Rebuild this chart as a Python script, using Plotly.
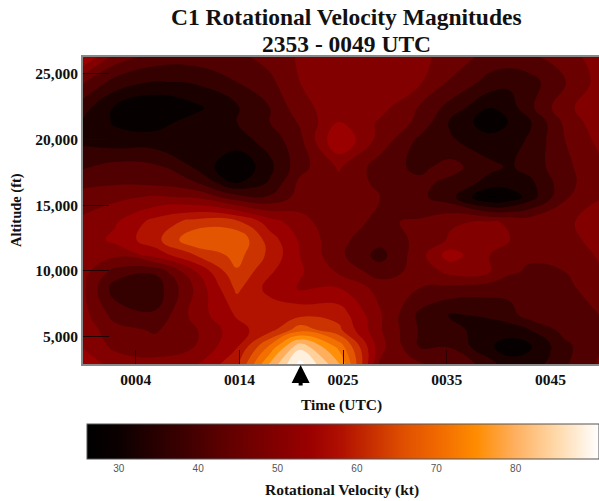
import plotly.graph_objects as go

time_minutes = [-1.1, 1.97, 5.83, 9.69, 13.75, 16.93, 19.83, 23.59, 27.55, 31.41, 34.31, 38.17, 40.1, 42.03, 45.41, 48.69]
altitude_ft = [26295, 24390, 22410, 21340, 19970, 17910, 16694, 15630, 13720, 12350, 11210, 9912, 8690, 6640, 5493, 4270, 2900]
velocity_kt = [
    [56, 46, 42, 41.5, 42.5, 45, 48, 49, 49, 48.5, 46, 42, 42, 42.5, 46, 49],
    [44, 38, 35.3, 36, 39.5, 42.5, 47.5, 49, 49.5, 48, 43, 38, 36.5, 38, 43, 49],
    [37, 31, 27.6, 30.5, 35, 39.5, 46, 50, 49, 43, 38, 31.5, 33.5, 38.5, 46.5, 50],
    [35, 31, 30, 33, 35.5, 39.5, 44, 51.5, 47, 42.5, 35, 29, 31.8, 35, 44.5, 50],
    [34.5, 33, 33, 33.5, 34, 37, 42.5, 55.4, 46, 38.5, 36, 33, 34, 36, 43.5, 48.5],
    [39, 41, 40.5, 35, 27.6, 34.5, 42, 48, 41.5, 38.5, 41, 36.5, 35, 37, 42.5, 46.5],
    [42.5, 43, 42.5, 40, 31.5, 36, 44.5, 46.5, 42.5, 40.5, 38.5, 34, 34, 34.5, 42, 46.5],
    [45, 46.5, 48, 47, 41, 40, 45, 45.5, 43.5, 40.5, 37, 27, 28.5, 33.5, 43, 47],
    [48.5, 51, 57, 61, 60.5, 53.5, 49, 44.5, 43, 44, 47, 48, 47, 46, 46, 51],
    [49, 52.5, 58, 67, 67, 57.5, 51, 44.5, 41, 44.5, 48, 48.5, 47.5, 46.5, 45.5, 49.5],
    [48.5, 48.5, 53, 59.5, 65, 58.5, 51.5, 44.5, 38, 46, 53.5, 47.5, 45.5, 44, 44.5, 48],
    [49, 42, 40, 51, 63, 56, 52, 47, 41.5, 45, 48.5, 47.5, 44, 43, 43.5, 47],
    [48.5, 37.5, 37, 48, 60.5, 54, 51, 51.5, 46, 43.5, 42.5, 41.5, 41, 41, 42.5, 45.5],
    [49, 42, 40, 49, 56, 58.5, 58.5, 58, 48, 38.5, 35.2, 36, 38, 41.5, 43, 43.5],
    [50, 45, 43, 47, 54, 58, 66, 60.5, 48, 39, 36.5, 34, 33.5, 35.5, 41, 43],
    [51, 46.5, 45, 47.5, 55, 68, 82, 70, 49, 39, 39, 32, 29.5, 31, 38.5, 43],
    [54, 50, 49, 51, 58.5, 76, 89, 76, 47, 44, 44, 37, 33, 33, 39, 44],
]

x_ticks = [4, 14, 24, 34, 44]
x_labels = ["0004", "0014", "0025", "0035", "0045"]
y_ticks = [5000, 10000, 15000, 20000, 25000]
y_labels = ["5,000", "10,000", "15,000", "20,000", "25,000"]
bar_ticks = [30, 40, 50, 60, 70, 80, 90]
title_lines = ["C1 Rotational Velocity Magnitudes", "2353 - 0049 UTC"]

zmin, zmax = 26, 90.5
color_stops = [(26, "#000000"), (30, "#0c0000"), (34, "#250000"), (38, "#3c0000"), (42, "#560000"),
               (46, "#6e0000"), (50, "#840000"), (54, "#9a0000"), (58, "#b01000"), (62, "#c83000"),
               (66, "#e05000"), (70, "#f06800"), (75, "#ff8c00"), (80, "#ffb060"), (85, "#ffd8a8"), (90.5, "#ffffff")]
colorscale = [[(v - zmin) / (zmax - zmin), c] for v, c in color_stops]
SERIF = "Liberation Serif"
INK = "#111111"
W, H = 599, 501
L, T, R, B = 83, 57, 599, 364


def px(x):
    return (x - L) / (R - L)


def py(y):
    return (B - y) / (B - T)


def label(text, x, y, size, angle=0):
    fig.add_annotation(text=f"<b>{text}</b>", x=px(x), y=py(y), xref="paper", yref="paper", showarrow=False,
                       xanchor="center", yanchor="middle", textangle=angle,
                       font=dict(family=SERIF, size=size, color=INK))


fig = go.Figure()
fig.add_trace(go.Contour(
    x=time_minutes, y=altitude_ft, z=velocity_kt,
    zmin=zmin, zmax=zmax, colorscale=colorscale, showscale=False,
    contours=dict(coloring="fill", start=27.5, end=91.5, size=4),
    line=dict(width=0, smoothing=1.3), hoverinfo="skip",
))
fig.add_trace(go.Scatter(
    x=[None], y=[None], mode="markers", showlegend=False,
    marker=dict(color=[zmin], cmin=zmin, cmax=zmax, colorscale=colorscale, showscale=True,
                colorbar=dict(orientation="h", lenmode="pixels", len=512, thicknessmode="pixels", thickness=35,
                              x=px(87), xanchor="left", y=py(424), yanchor="top", xpad=0, ypad=0,
                              outlinecolor="#555555", outlinewidth=1, tickvals=bar_ticks, ticks="",
                              tickfont=dict(family="Liberation Sans", size=10, color="#555555"))),
))
fig.update_layout(
    width=W, height=H, margin=dict(l=L, r=W - R, t=T, b=H - B, autoexpand=False),
    paper_bgcolor="white", plot_bgcolor="white", showlegend=False,
)
for text, yy in zip(title_lines, [17, 44]):
    label(text, 346, yy, 23.5)
label("Rotational Velocity (kt)", 342, 490, 15.5)
label("Time (UTC)", 341, 405, 15.5)
label("Altitude (ft)", 16, 210, 14.5, angle=-90)
fig.add_annotation(text="", x=19.9, y=py(365), xref="x", yref="paper", ax=0, ay=22,
                   showarrow=True, arrowhead=2, arrowsize=0.9, arrowwidth=4, arrowcolor="black")
fig.update_xaxes(range=[-1.1, 48.69], tickvals=x_ticks, ticktext=[f"<b>{t}</b>" for t in x_labels], ticks="inside",
                 ticklen=14, tickwidth=1, tickcolor="#300000", showgrid=False, zeroline=False, showline=True,
                 linecolor="#888888", linewidth=2, mirror=True, tickfont=dict(family=SERIF, size=15.5, color=INK))
fig.update_yaxes(range=[2900, 26295], tickvals=y_ticks, ticktext=[f"<b>{t}</b>" for t in y_labels], ticks="inside",
                 ticklen=26, tickwidth=1, tickcolor="#200000", showgrid=False, zeroline=False, showline=True,
                 linecolor="#888888", linewidth=2, mirror=False, tickfont=dict(family=SERIF, size=15.5, color=INK))
fig.write_html("out.html", config=dict(displayModeBar=False),
               post_script="document.body.style.margin='0';document.documentElement.style.overflow='hidden';")
